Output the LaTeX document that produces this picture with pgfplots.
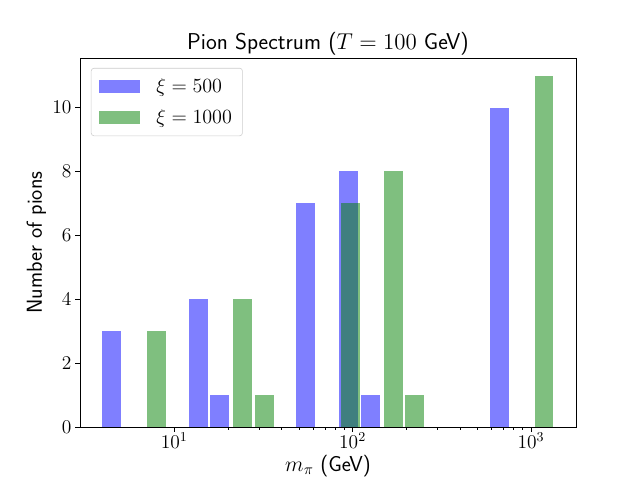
\RequirePackage{fix-cm}
\documentclass[border=0pt]{standalone}
\usepackage{pgfplots}
\pgfplotsset{compat=1.18}
\definecolor{mplgreen}{RGB}{0,128,0}
\newcommand{\bbar}[3]{\addplot[fill=blue, fill opacity=0.5, draw=none, forget plot] coordinates {(#1,0) (#1,#3) (#2,#3) (#2,0)} -- cycle;}
\newcommand{\gbar}[3]{\addplot[fill=mplgreen, fill opacity=0.5, draw=none, forget plot] coordinates {(#1,0) (#1,#3) (#2,#3) (#2,0)} -- cycle;}
\begin{document}
\begin{tikzpicture}[x=1pt,y=1pt]
\path[use as bounding box] (-57.6,-38.16) rectangle (403.2,307.44);
\begin{axis}[
  at={(0,0)}, anchor=south west,
  scale only axis, width=357.12pt, height=265.68pt,
  xmode=log, xmin=2.96, xmax=1790, ymin=0, ymax=11.55,
  ytick={0,2,4,6,8,10},
  xtick={10,100,1000},
  tick align=outside, xtick pos=bottom, ytick pos=left,
  major tick length=3.5pt, minor tick length=2pt,
  tick style={black, line width=0.6pt},
  axis line style={line width=0.6pt},
  tick label style={font=\fontsize{14}{16}\selectfont},
  xticklabel style={inner ysep=0.5pt},
  yticklabel style={inner xsep=2.5pt},
  title={Pion Spectrum ($T = 100$ GeV)},
  title style={font=\sffamily\fontsize{16.5}{19}\selectfont, at={(axis description cs:0.5,1)}, anchor=base},
  xlabel={$m_\pi$ (GeV)},
  ylabel={Number of pions},
  label style={font=\sffamily\fontsize{15.6}{18}\selectfont},
  xlabel style={at={(axis description cs:0.5,0)}, anchor=base, yshift=-31.8pt},
  ylabel style={at={(axis description cs:-0.0767,0.5)}, anchor=base},
  legend style={at={(0.022,0.973)}, anchor=north west, draw=black!20, rounded corners=2pt,
    font=\fontsize{14.5}{17}\selectfont, inner xsep=5.5pt, inner ysep=5.5pt, row sep=6.5pt},
  legend cell align=left,
  legend image code/.code={\fill[#1, sharp corners] (0pt,-4.8pt) rectangle (29.5pt,4.8pt); \path (39.5pt,0pt);},
]
\addlegendimage{fill=blue, fill opacity=0.5, draw=none}
\addlegendentry{$\xi = 500$}
\addlegendimage{fill=mplgreen, fill opacity=0.5, draw=none}
\addlegendentry{$\xi = 1000$}
\bbar{3.95}{5.00}{3}
\bbar{12.1}{15.4}{4}
\bbar{15.85}{20.2}{1}
\bbar{48.2}{61.5}{7}
\bbar{84.1}{107.2}{8}
\bbar{111.7}{142.9}{1}
\bbar{591.6}{756.8}{10}
\gbar{7.0}{8.95}{3}
\gbar{21.3}{27.2}{4}
\gbar{28.3}{36.2}{1}
\gbar{86.1}{110.2}{7}
\gbar{150.3}{192.3}{8}
\gbar{197.2}{252.4}{1}
\gbar{1059}{1337}{11}
\end{axis}
\end{tikzpicture}
\end{document}
